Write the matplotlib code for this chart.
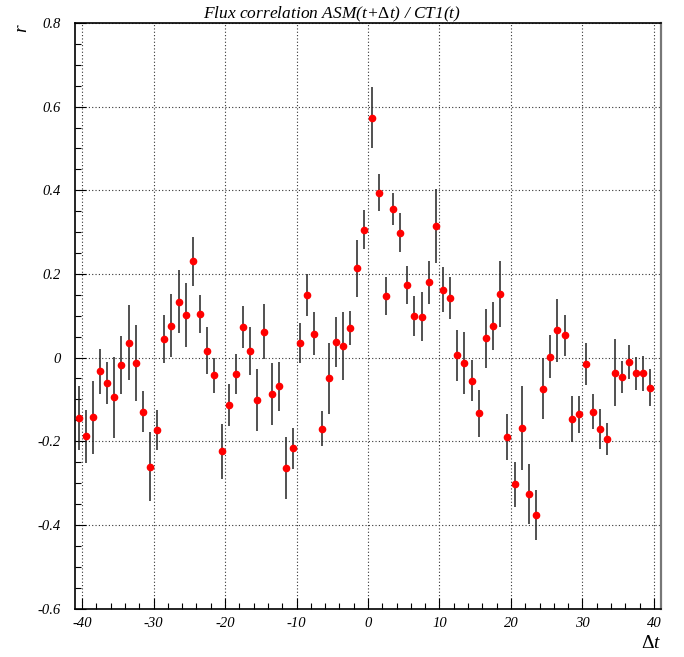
import numpy as np
import matplotlib

matplotlib.use('Agg')
import matplotlib.pyplot as plt
from matplotlib.ticker import MultipleLocator

plt.rcParams['font.family'] = ['Liberation Serif', 'DejaVu Serif']
plt.rcParams['mathtext.fontset'] = 'custom'
plt.rcParams['mathtext.rm'] = 'Liberation Serif'
plt.rcParams['mathtext.it'] = 'Liberation Serif:italic'

# --- data: lag (days) / correlation coefficient / error ---
lag = np.arange(-40.5, 40.0, 1.0)

r = [-0.145, -0.188, -0.143, -0.033, -0.061, -0.095, -0.018, 0.036, -0.014, -0.130,
     -0.261, -0.173, 0.044, 0.076, 0.134, 0.102, 0.230, 0.104, 0.016, -0.042,
     -0.224, -0.114, -0.039, 0.074, 0.016, -0.102, 0.062, -0.087, -0.069, -0.264,
     -0.217, 0.034, 0.149, 0.057, -0.170, -0.050, 0.037, 0.028, 0.070, 0.214,
     0.306, 0.573, 0.394, 0.147, 0.356, 0.299, 0.173, 0.100, 0.098, 0.180,
     0.314, 0.162, 0.142, 0.005, -0.013, -0.055, -0.133, 0.046, 0.075, 0.153,
     -0.190, -0.303, -0.169, -0.327, -0.377, -0.074, 0.002, 0.065, 0.053, -0.147,
     -0.136, -0.016, -0.129, -0.171, -0.195, -0.036, -0.047, -0.011, -0.038, -0.038,
     -0.072]

r_err = [0.076, 0.063, 0.087, 0.054, 0.051, 0.097, 0.069, 0.089, 0.091, 0.049,
         0.083, 0.048, 0.058, 0.075, 0.076, 0.077, 0.058, 0.046, 0.056, 0.042,
         0.066, 0.050, 0.048, 0.050, 0.057, 0.074, 0.066, 0.074, 0.058, 0.073,
         0.049, 0.048, 0.050, 0.051, 0.042, 0.085, 0.060, 0.081, 0.041, 0.068,
         0.047, 0.073, 0.044, 0.046, 0.038, 0.046, 0.046, 0.048, 0.058, 0.051,
         0.088, 0.054, 0.050, 0.061, 0.075, 0.048, 0.056, 0.071, 0.058, 0.079,
         0.055, 0.054, 0.101, 0.072, 0.060, 0.072, 0.051, 0.075, 0.049, 0.054,
         0.044, 0.050, 0.042, 0.047, 0.038, 0.080, 0.038, 0.040, 0.039, 0.042,
         0.044]

fig = plt.figure(figsize=(6.84, 6.57), dpi=100)
ax = fig.add_axes([75 / 684, 1 - 608.5 / 657, 586 / 684, 585.5 / 657])

ax.errorbar(lag, r, yerr=r_err, fmt='o', color='red', ms=4.5, mec='red',
            ecolor='#222222', elinewidth=1.1, capsize=0, zorder=3)

ax.set_xlim(-41, 41)
ax.set_ylim(-0.6, 0.8)
ax.xaxis.set_major_locator(MultipleLocator(10))
ax.xaxis.set_minor_locator(MultipleLocator(2))
ax.yaxis.set_major_locator(MultipleLocator(0.2))
ax.yaxis.set_minor_locator(MultipleLocator(0.05))

ax.grid(True, which='major', color='#333333', linestyle=(0, (1, 2)), linewidth=0.8)
ax.tick_params(which='both', direction='in', top=False, right=False,
               labelsize=10.5, width=0.8)
ax.tick_params(which='major', length=8)
ax.tick_params(which='minor', length=4)
ax.tick_params(axis='y', pad=10)
ax.tick_params(axis='x', pad=6)

ax.set_xticks(np.arange(-40, 41, 10))
ax.set_xticklabels([f'{v:g}' for v in np.arange(-40, 41, 10)], style='italic')
yt = np.round(np.arange(-0.6, 0.81, 0.2), 1)
ax.set_yticks(yt)
ax.set_yticklabels([f'{v:g}' if v != 0 else '0' for v in yt], style='italic')

for s in ax.spines.values():
    s.set_linewidth(1.2)
ax.spines['right'].set_color('#777777')
ax.spines['right'].set_linewidth(1.6)

fig.text(203 / 684, 1 - 18 / 657, r'Flux correlation ASM(t+$\Delta$t) / CT1(t)',
         fontsize=12.5, style='italic', ha='left', va='baseline')
fig.text(661 / 684, 1 - 648 / 657, r'$\Delta\mathit{t}$', fontsize=14,
         ha='right', va='baseline')
fig.text(22 / 684, 1 - 28 / 657, 'r', fontsize=14, style='italic',
         rotation=90, ha='center', va='center')

fig.savefig('out.png', dpi=100)
